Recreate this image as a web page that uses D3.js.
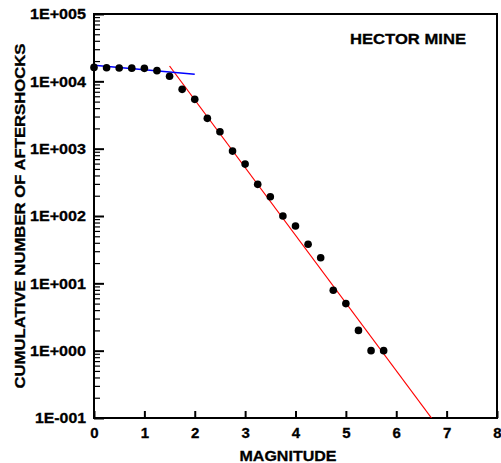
<!DOCTYPE html>
<html>
<head>
<meta charset="utf-8">
<script src="https://cdn.jsdelivr.net/npm/d3@7"></script>
<style>
  body { margin: 0; background: #fff; }
  text { font-family: "Liberation Sans", Arial, sans-serif; font-weight: bold; fill: #000; stroke: #000; stroke-width: 0.3px; }
</style>
</head>
<body>
<svg id="chart"></svg>
<script>
const width = 501;
const height = 463;

// observed cumulative counts
const magnitudes = [0, 0.25, 0.5, 0.75, 1.0, 1.25, 1.5, 1.75, 2.0, 2.25, 2.5, 2.75,
    3.0, 3.25, 3.5, 3.75, 4.0, 4.25, 4.5, 4.75, 5.0, 5.25, 5.5, 5.75];
const counts = [16100, 15900, 15800, 15700, 15600, 14400, 11900, 7600, 5400, 2820, 1780, 920,
    590, 295, 193, 100, 71, 38, 24, 7.9, 5, 2, 1, 1];

// fitted lines (endpoints)
const blueFit = [[0, 17300], [2, 12700]];
const redFit = [[1.5, 16900], [6.7, 0.1]];

const xTicks = [0, 1, 2, 3, 4, 5, 6, 7, 8];
const yTicks = [1e-1, 1e0, 1e1, 1e2, 1e3, 1e4, 1e5];

const margin = {top: 14, right: 4, bottom: 45, left: 94};

const svg = d3.select("#chart")
    .attr("width", width)
    .attr("height", height);

const x = d3.scaleLinear()
    .domain([0, 8])
    .range([margin.left, width - margin.right]);

const y = d3.scaleLog()
    .domain([0.1, 1e5])
    .range([height - margin.bottom, margin.top]);

function sciFormat(v) {
    const e = Math.round(Math.log10(v));
    const sign = e < 0 ? "-" : "+";
    return "1E" + sign + String(Math.abs(e)).padStart(3, "0");
}

// minor ticks 2..9 in each decade
const minorTicks = [];
for (let d = -1; d < 5; d++) {
    for (let k = 2; k < 10; k++) minorTicks.push(k * Math.pow(10, d));
}

svg.append("g")
    .attr("transform", `translate(${margin.left},0)`)
    .call(d3.axisLeft(y).tickValues(minorTicks).tickSize(-6).tickFormat(""))
    .call(g => g.select(".domain").remove())
    .call(g => g.selectAll("line").attr("stroke-width", 1.2));

// the original lettering is a bit wider than Arial
svg.append("g")
    .attr("transform", `translate(${margin.left},0)`)
    .call(d3.axisLeft(y).tickValues(yTicks).tickSize(-10).tickPadding(8).tickFormat(sciFormat))
    .call(g => g.select(".domain").remove())
    .call(g => g.selectAll("line").attr("stroke-width", 2))
    .call(g => g.selectAll("text").attr("font-size", 15).attr("font-family", null).attr("x", -8)
        .attr("textLength", d => d < 1 ? 51 : 56)
        .attr("lengthAdjust", "spacingAndGlyphs"));

svg.append("g")
    .attr("transform", `translate(0,${height - margin.bottom})`)
    .call(d3.axisBottom(x).tickValues(xTicks).tickSize(-7).tickFormat(d3.format("d")))
    .call(g => g.select(".domain").remove())
    .call(g => g.selectAll("line").attr("stroke-width", 2))
    .call(g => g.selectAll("text").attr("font-size", 15).attr("font-family", null)
        .attr("y", 20).attr("dy", 0));

// frame
svg.append("rect")
    .attr("x", margin.left)
    .attr("y", margin.top)
    .attr("width", width - margin.right - margin.left)
    .attr("height", height - margin.bottom - margin.top)
    .attr("fill", "none")
    .attr("stroke", "#000")
    .attr("stroke-width", 2);

svg.append("clipPath").attr("id", "plot-clip")
    .append("rect")
    .attr("x", margin.left)
    .attr("y", margin.top)
    .attr("width", width - margin.right - margin.left)
    .attr("height", height - margin.bottom - margin.top);

const line = d3.line().x(d => x(d[0])).y(d => y(d[1]));

const plot = svg.append("g").attr("clip-path", "url(#plot-clip)");

plot.append("path")
    .attr("d", line(redFit))
    .attr("fill", "none")
    .attr("stroke", "#ff0000")
    .attr("stroke-width", 1.2);

plot.append("path")
    .attr("d", line(blueFit))
    .attr("fill", "none")
    .attr("stroke", "#0000ff")
    .attr("stroke-width", 1.5);

svg.append("g")
    .selectAll("circle")
    .data(magnitudes)
    .enter().append("circle")
    .attr("cx", d => x(d))
    .attr("cy", (d, i) => y(counts[i]))
    .attr("r", 3.8)
    .attr("fill", "#000");

svg.append("text")
    .attr("x", 408)
    .attr("y", 44)
    .attr("text-anchor", "middle")
    .attr("font-size", 15)
    .attr("textLength", 116)
    .attr("lengthAdjust", "spacingAndGlyphs")
    .text("HECTOR MINE");

svg.append("text")
    .attr("x", 288)
    .attr("y", 461)
    .attr("text-anchor", "middle")
    .attr("font-size", 15)
    .attr("textLength", 97)
    .attr("lengthAdjust", "spacingAndGlyphs")
    .text("MAGNITUDE");

svg.append("text")
    .attr("transform", "translate(25,216) rotate(-90)")
    .attr("text-anchor", "middle")
    .attr("font-size", 15)
    .attr("textLength", 345)
    .attr("lengthAdjust", "spacingAndGlyphs")
    .text("CUMULATIVE NUMBER OF AFTERSHOCKS");
</script>
</body>
</html>
